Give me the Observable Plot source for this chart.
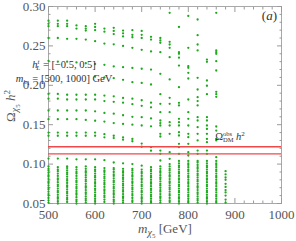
<!DOCTYPE html>
<html><head><meta charset="utf-8">
<script src="https://cdn.jsdelivr.net/npm/d3@7"></script>
<script src="https://cdn.jsdelivr.net/npm/@observablehq/plot@0.6"></script>
<style>body{margin:0;background:#fff} svg{display:block}</style>
</head><body><div id="chart"></div>
<script>
// m_chi columns [GeV]
const masses = [500,520,540,560,580,600,620,640,660,680,700,720,740,760,780,800,820,840,860,880];
// Omega h^2 values read per mass column
const om500 = [0.282,0.278,0.275,0.260,0.231,0.189,0.183,0.168,0.157,0.140,0.136,0.107,0.097,0.094,0.092,0.089,0.086,0.084,0.081,0.078,0.076,0.073,0.070,0.068,0.065,0.062,0.060,0.057,0.054,0.051];
const om520 = [0.282,0.278,0.275,0.260,0.230,0.189,0.183,0.168,0.157,0.140,0.136,0.107,0.096,0.093,0.091,0.088,0.085,0.082,0.080,0.077,0.074,0.072,0.069,0.066,0.064,0.061,0.058,0.056,0.053,0.050];
const om540 = [0.282,0.278,0.275,0.259,0.230,0.188,0.182,0.168,0.157,0.140,0.136,0.107,0.097,0.095,0.092,0.089,0.087,0.084,0.081,0.079,0.076,0.073,0.071,0.068,0.065,0.063,0.060,0.057,0.055,0.052];
const om560 = [0.276,0.272,0.259,0.229,0.188,0.182,0.168,0.157,0.140,0.136,0.106,0.096,0.093,0.090,0.088,0.085,0.082,0.079,0.077,0.074,0.071,0.069,0.066,0.063,0.061,0.058,0.055,0.053,0.050];
const om580 = [0.275,0.272,0.2695,0.258,0.228,0.188,0.182,0.168,0.156,0.140,0.136,0.106,0.097,0.094,0.091,0.089,0.086,0.083,0.080,0.078,0.075,0.072,0.070,0.067,0.064,0.062,0.059,0.056,0.054,0.051];
const om600 = [0.278,0.274,0.270,0.256,0.227,0.211,0.188,0.182,0.167,0.155,0.140,0.136,0.106,0.096,0.093,0.091,0.088,0.085,0.083,0.080,0.077,0.075,0.072,0.069,0.067,0.064,0.061,0.059,0.056,0.053,0.050];
const om620 = [0.272,0.268,0.253,0.226,0.210,0.187,0.180,0.165,0.154,0.138,0.134,0.105,0.095,0.092,0.090,0.087,0.084,0.082,0.079,0.076,0.074,0.071,0.068,0.066,0.063,0.060,0.058,0.055,0.052];
const om640 = [0.273,0.269,0.265,0.252,0.224,0.209,0.186,0.179,0.164,0.152,0.136,0.133,0.102,0.095,0.093,0.090,0.087,0.085,0.082,0.079,0.077,0.074,0.071,0.069,0.066,0.063,0.061,0.058,0.055,0.053,0.050];
const om660 = [0.2695,0.266,0.262,0.250,0.223,0.207,0.184,0.178,0.162,0.151,0.134,0.131,0.101,0.094,0.091,0.089,0.086,0.083,0.081,0.078,0.075,0.073,0.070,0.067,0.065,0.062,0.059,0.057,0.054,0.051];
const om680 = [0.270,0.264,0.261,0.2475,0.222,0.204,0.183,0.176,0.160,0.150,0.132,0.129,0.100,0.094,0.092,0.089,0.086,0.084,0.081,0.078,0.076,0.073,0.070,0.068,0.065,0.062,0.060,0.057,0.054,0.052];
const om700 = [0.269,0.264,0.260,0.245,0.221,0.203,0.181,0.174,0.1595,0.149,0.126,0.122,0.098,0.093,0.090,0.088,0.085,0.082,0.080,0.077,0.074,0.072,0.069,0.066,0.064,0.061,0.058,0.056,0.053,0.050];
const om720 = [0.2615,0.258,0.243,0.220,0.201,0.178,0.172,0.158,0.148,0.1215,0.117,0.096,0.093,0.091,0.088,0.085,0.083,0.080,0.077,0.075,0.072,0.069,0.067,0.064,0.061,0.059,0.056,0.053,0.051];
const om740 = [0.260,0.257,0.254,0.242,0.2146,0.1888,0.1765,0.1659,0.1553,0.152,0.149,0.1384,0.135,0.1172,0.113,0.1046,0.097,0.094,0.091,0.089,0.086,0.083,0.081,0.078,0.075,0.073,0.070,0.067,0.065,0.062,0.059,0.057,0.054,0.051];
const om760 = [0.292,0.2552,0.2518,0.2476,0.2357,0.2074,0.1841,0.1765,0.1659,0.1532,0.149,0.1384,0.1151,0.1067,0.100,0.097,0.094,0.092,0.089,0.086,0.084,0.081,0.078,0.076,0.073,0.070,0.068,0.065,0.062,0.060,0.057,0.054,0.052];
const om780 = [0.274,0.242,0.240,0.235,0.225,0.1976,0.1777,0.1744,0.1574,0.1532,0.149,0.1405,0.1363,0.1257,0.1215,0.113,0.104,0.101,0.098,0.096,0.093,0.090,0.088,0.085,0.082,0.080,0.077,0.074,0.072,0.069,0.066,0.064,0.061,0.058,0.056,0.053,0.050];
const om800 = [0.288,0.2476,0.2243,0.2222,0.2158,0.2086,0.182,0.1659,0.1574,0.149,0.1384,0.1342,0.1257,0.1151,0.1109,0.104,0.101,0.099,0.096,0.093,0.091,0.088,0.085,0.083,0.080,0.077,0.075,0.072,0.069,0.067,0.064,0.061,0.059,0.056,0.053,0.051];
const om820 = [0.2835,0.2636,0.2518,0.2442,0.2095,0.1947,0.1849,0.180,0.1744,0.1595,0.1553,0.1469,0.1384,0.130,0.1172,0.113,0.104,0.102,0.099,0.096,0.094,0.091,0.088,0.086,0.083,0.080,0.078,0.075,0.072,0.070,0.067,0.064,0.062,0.059,0.056,0.054,0.051];
const om840 = [0.2327,0.2298,0.2061,0.1994,0.1888,0.1595,0.1553,0.149,0.1447,0.1384,0.132,0.1278,0.1172,0.113,0.104,0.101,0.098,0.096,0.093,0.090,0.088,0.085,0.082,0.080,0.077,0.074,0.072,0.069,0.066,0.064,0.061,0.058,0.056,0.053,0.050];
const om860 = [0.292,0.2442,0.242,0.240,0.2306,0.2188,0.1917,0.1888,0.1854,0.1477,0.1426,0.132,0.130,0.1088,0.104,0.101,0.099,0.096,0.093,0.091,0.088,0.085,0.083,0.080,0.077,0.075,0.072,0.069,0.067,0.064,0.061,0.059,0.056,0.053,0.051];
const om880 = [0.091,0.087,0.083,0.080,0.075,0.071,0.067,0.064,0.060,0.055,0.051];
const columns = [om500,om520,om540,om560,om580,om600,om620,om640,om660,om680,om700,om720,om740,om760,om780,om800,om820,om840,om860,om880];

// observed relic density band
const relicBand = [0.113, 0.122];

// ticks
const xMajor = [500,600,700,800,900,1000];
const xMinor = [520,540,560,580,620,640,660,680,720,740,760,780,820,840,860,880,920,940,960,980];
const yMajor = [0.05,0.10,0.15,0.20,0.25,0.30];
const yMinor = [0.06,0.07,0.08,0.09,0.11,0.12,0.13,0.14,0.16,0.17,0.18,0.19,0.21,0.22,0.23,0.24,0.26,0.27,0.28,0.29];
const yTickLabels = ["0.05","0.10","0.15","0.20","0.25","0.30"];

const points = masses.flatMap((m, i) => columns[i].map(v => ({m, omega: v})));

const tickCol = "#9a9a9a";
const labCol = "#555";
const chart = Plot.plot({
  width: 296, height: 241,
  marginLeft: 48, marginRight: 15, marginTop: 6, marginBottom: 38,
  x: {domain: [500, 1000]},
  y: {domain: [0.05, 0.30]},
  style: {fontFamily: "Liberation Serif", fontSize: "13px", background: "white", overflow: "visible"},
  marks: [
    Plot.frame({stroke: "#a8a8a8"}),
    Plot.axisX(xMajor, {anchor: "bottom", tickSize: 0, tickPadding: 6, tickFormat: d => String(d), fill: labCol, label: null, fontFamily: "Liberation Serif"}),
    Plot.axisY(yMajor, {anchor: "left", tickSize: 0, tickPadding: 3, tickFormat: (d, i) => yTickLabels[i], fill: labCol, label: null, fontFamily: "Liberation Serif"}),
    Plot.axisX(xMajor, {anchor: "bottom", tickSize: -5, stroke: tickCol, tickFormat: () => "", label: null}),
    Plot.axisX(xMajor, {anchor: "top", tickSize: -5, stroke: tickCol, tickFormat: () => "", label: null}),
    Plot.axisX(xMinor, {anchor: "bottom", tickSize: -2.5, stroke: tickCol, tickFormat: () => "", label: null}),
    Plot.axisX(xMinor, {anchor: "top", tickSize: -2.5, stroke: tickCol, tickFormat: () => "", label: null}),
    Plot.axisY(yMajor, {anchor: "left", tickSize: -5, stroke: tickCol, tickFormat: () => "", label: null}),
    Plot.axisY(yMajor, {anchor: "right", tickSize: -5, stroke: tickCol, tickFormat: () => "", label: null}),
    Plot.axisY(yMinor, {anchor: "left", tickSize: -2.5, stroke: tickCol, tickFormat: () => "", label: null}),
    Plot.axisY(yMinor, {anchor: "right", tickSize: -2.5, stroke: tickCol, tickFormat: () => "", label: null}),
    Plot.dot(points, {x: "m", y: "omega", r: 1.15, fill: "#1ea81e", stroke: "none"}),
    Plot.ruleY(relicBand, {stroke: "#f04848", strokeWidth: 1.4})
  ]
});
document.getElementById("chart").append(chart);

// rich-text labels (sub/superscripts)
const svg = d3.select(chart);
function rich(parent, parts, attrs) {
  const t = parent.append("text").attr("font-family", "Liberation Serif").attr("fill", attrs.fill || "#333");
  for (const k in attrs) if (k !== "fill") t.attr(k, attrs[k]);
  let shift = 0;
  for (const p of parts) {
    const s = t.append("tspan").text(p.t);
    const target = p.dy || 0;
    if (target !== shift) { s.attr("dy", target - shift); shift = target; }
    if (p.size) s.attr("font-size", p.size);
    if (p.italic) s.attr("font-style", "italic");
    if (p.dx) s.attr("dx", p.dx);
  }
  return t;
}
// x axis title
rich(svg, [
  {t: "m", italic: true}, {t: "χ", italic: true, size: 10, dy: 3}, {t: "5", size: 7, dy: 5},
  {t: " [GeV]", dy: 0}
], {x: 165, y: 233, "font-size": 13, "text-anchor": "middle", fill: "#555"});
// y axis title
rich(svg, [
  {t: "Ω"}, {t: "χ", italic: true, size: 10, dy: 3}, {t: "5", size: 7, dy: 5},
  {t: " h", italic: true, dy: 0}, {t: "2", size: 9, dy: -5}
], {"font-size": 13, "text-anchor": "middle", fill: "#555", transform: "translate(15,106) rotate(-90)"});
// panel tag
rich(svg, [{t: "(", dy: 0}, {t: "a", italic: true}, {t: ")"}], {x: 277, y: 20, "font-size": 13, "text-anchor": "end"});
// parameter ranges
rich(svg, [
  {t: "h", italic: true}, {t: "t", italic: true, size: 7, dy: -4}, {t: "L", italic: true, size: 7, dy: 2, dx: -3},
  {t: " = [−0.5, 0.5]", dy: 0}
], {x: 64, y: 68, "font-size": 10.5});
rich(svg, [
  {t: "m", italic: true}, {t: "h", italic: true, size: 7, dy: 2}, {t: "1", size: 6, dy: 3},
  {t: " = [500, 1000] GeV", dy: 0}
], {x: 64, y: 82, "font-size": 10.5});
// relic density label
rich(svg, [
  {t: "Ω"}, {t: "obs", size: 6.5, dy: -4}, {t: "DM", size: 6.5, dy: 2, dx: -9},
  {t: " h", italic: true, dy: 0}, {t: "2", size: 7, dy: -4}
], {x: 230, y: 140, "font-size": 10.5});
</script>
</body></html>
